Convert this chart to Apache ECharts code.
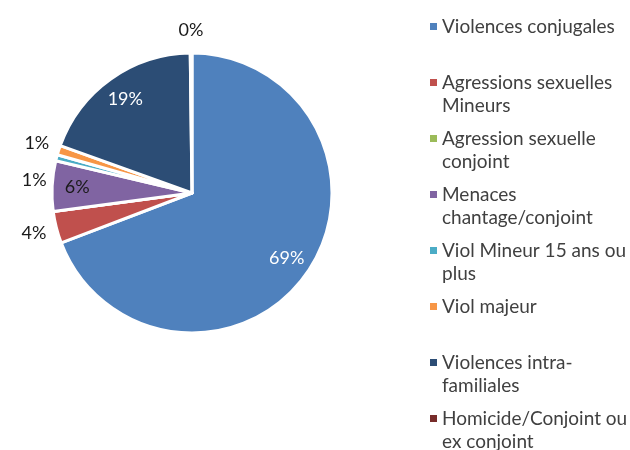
<!DOCTYPE html>
<html><head><meta charset="utf-8">
<script src="https://cdn.jsdelivr.net/npm/echarts@6/dist/echarts.min.js"></script>
<style>html,body{margin:0;padding:0;background:#fff}#c{width:630px;height:450px}</style>
</head><body><div id="c"></div>
<script>
const categories = ['Violences conjugales','Agressions sexuelles Mineurs','Agression sexuelle conjoint','Menaces chantage/conjoint','Viol Mineur 15 ans ou plus','Viol majeur','Violences intra-familiales','Homicide/Conjoint ou ex conjoint'];
const legendLabels = ['Violences conjugales\n ','Agressions sexuelles\nMineurs','Agression sexuelle\nconjoint','Menaces\nchantage/conjoint','Viol Mineur 15 ans ou\nplus','Viol majeur\n ','Violences intra-\nfamiliales','Homicide/Conjoint ou\nex conjoint'];
const values = [69.2, 3.7, 0, 5.8, 0.7, 1.1, 19.3, 0.2];
const colors = ['#4F81BD','#C0504D','#9BBB59','#8064A2','#4BACC6','#F79646','#2C4D75','#772C2A'];
const insideLabels = [0, 3, 6];

const FONT = 'Lato';
const CX = 192, CY = 193, R = 140;
const pct = p => Math.round(p.percent) + '%';
const insideColor = {0: '#ffffff', 3: '#1a1a1a', 6: '#ffffff'};

const chart = echarts.init(document.getElementById('c'), null, {renderer: 'canvas'});
chart.setOption({
  animation: false,
  backgroundColor: '#fff',
  color: colors,
  legend: {
    orient: 'vertical', left: 425, top: 10, height: 520,
    itemWidth: 7, itemHeight: 46, itemGap: 10,
    icon: 'path://M0,0h0.01v0.01h-0.01zM0,8h7v7h-7zM0,45.99h0.01v0.01h-0.01z',
    itemStyle: {borderWidth: 0},
    selectedMode: false,
    data: categories,
    formatter: name => legendLabels[categories.indexOf(name)],
    textStyle: {fontFamily: FONT, fontSize: 19, color: '#404040', lineHeight: 23}
  },
  series: [
    {
      type: 'pie', center: [CX, CY], radius: R, startAngle: 90, clockwise: true,
      silent: true, label: {show: false}, labelLine: {show: false},
      itemStyle: {borderColor: '#fff', borderWidth: 3},
      data: categories.map((n, i) => ({name: n, value: values[i]}))
    },
    {
      type: 'pie', center: [CX, CY], radius: [R * 0.6, R], startAngle: 90,
      silent: true, labelLine: {show: false},
      itemStyle: {color: 'rgba(0,0,0,0)', borderWidth: 0},
      label: {position: 'inside', formatter: pct, fontFamily: FONT, fontSize: 18, textBorderWidth: 0},
      data: categories.map((n, i) => ({
        name: n, value: values[i],
        label: {show: insideLabels.includes(i), color: insideColor[i] || '#000'}
      }))
    },
    {
      type: 'pie', center: [CX, CY], radius: [R, R + 40], startAngle: 90,
      silent: true, labelLine: {show: false},
      itemStyle: {color: 'rgba(0,0,0,0)', borderWidth: 0},
      labelLayout: {moveOverlap: 'shiftY'},
      label: {position: 'inside', formatter: pct, fontFamily: FONT, fontSize: 18, color: '#1a1a1a', textBorderWidth: 0, lineHeight: 37},
      data: categories.map((n, i) => ({
        name: n, value: values[i],
        label: {show: !insideLabels.includes(i) && values[i] > 0}
      }))
    }
  ]
});
</script></body></html>
